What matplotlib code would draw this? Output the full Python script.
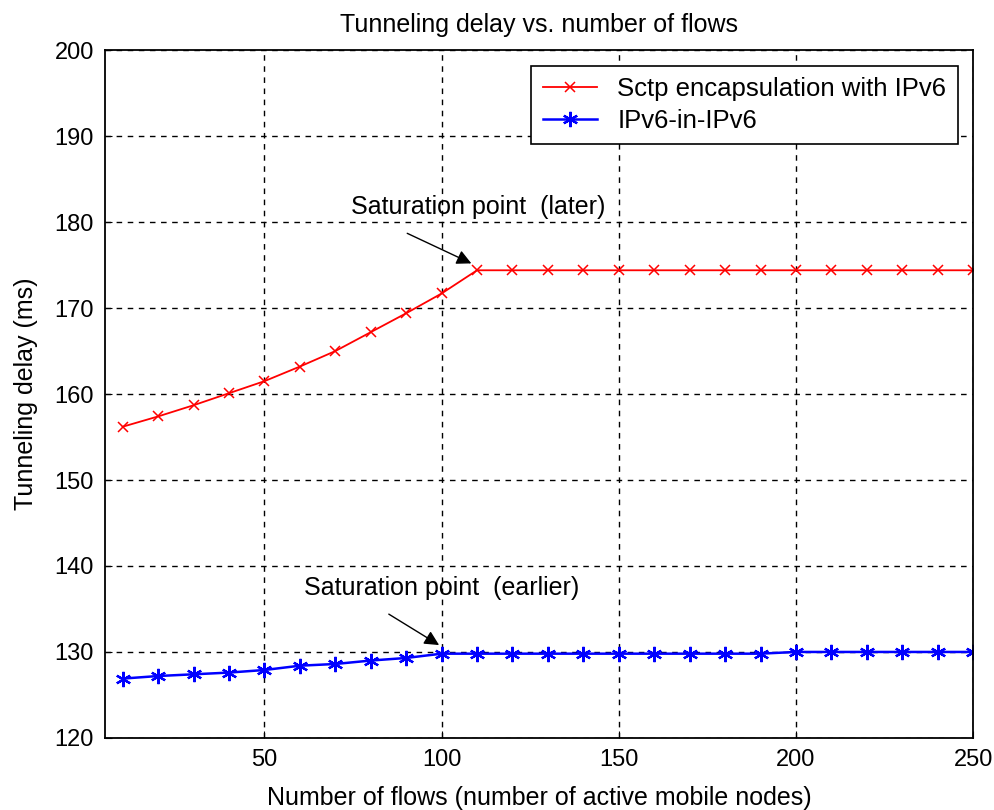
import matplotlib.pyplot as plt

# data
flows = [10, 20, 30, 40, 50, 60, 70, 80, 90, 100, 110, 120, 130, 140, 150,
         160, 170, 180, 190, 200, 210, 220, 230, 240, 250]
sctp_delay = [156.2, 157.4, 158.7, 160.1, 161.5, 163.2, 165.0, 167.2, 169.4, 171.7,
              174.4, 174.4, 174.4, 174.4, 174.4, 174.4, 174.4, 174.4, 174.4, 174.4,
              174.4, 174.4, 174.4, 174.4, 174.4]
ip6ip6_delay = [126.9, 127.2, 127.4, 127.6, 127.9, 128.4, 128.6, 129.0, 129.3, 129.8,
                129.8, 129.8, 129.8, 129.8, 129.8, 129.8, 129.8, 129.8, 129.8, 130.0,
                130.0, 130.0, 130.0, 130.0, 130.0]
x_ticks = [50, 100, 150, 200, 250]
y_ticks = [120, 130, 140, 150, 160, 170, 180, 190, 200]

plt.rcParams['font.family'] = ['Liberation Sans', 'DejaVu Sans']

fig = plt.figure(figsize=(9.95, 8.1), dpi=100)
ax = fig.add_axes([0.1055, 0.089, 0.8725, 0.849])

ax.plot(flows, sctp_delay, color='red', marker='x', markersize=7, linewidth=1.3,
        markeredgewidth=1.1, label='Sctp encapsulation with IPv6')
ax.plot(flows, ip6ip6_delay, color='blue', marker=(6, 2, 0), markersize=11,
        markeredgewidth=1.6, linewidth=1.8, label='IPv6-in-IPv6')

ax.set_xlim(5, 250)
ax.set_ylim(120, 200)
ax.set_xticks(x_ticks)
ax.set_yticks(y_ticks)
ax.tick_params(labelsize=17, direction='in', length=5, pad=8)
ax.grid(True, color='black', linestyle=(0, (4, 4)), linewidth=1)
for s in ax.spines.values():
    s.set_linewidth(1.3)

ax.set_title('Tunneling delay vs. number of flows', fontsize=18, pad=13)
ax.set_xlabel('Number of flows (number of active mobile nodes)', fontsize=18, labelpad=11)
ax.set_ylabel('Tunneling delay (ms)', fontsize=18, labelpad=12)

arrow = dict(arrowstyle='-|>', color='black', lw=1, mutation_scale=22,
             shrinkA=0, shrinkB=0)
ax.text(74.5, 181.8, 'Saturation point  (later)', fontsize=18, va='center', ha='left')
ax.annotate('', xy=(108.4, 175.2), xytext=(90.3, 178.7), arrowprops=arrow)
ax.text(61.3, 137.4, 'Saturation point  (earlier)', fontsize=18, va='center', ha='left')
ax.annotate('', xy=(99.3, 130.8), xytext=(85.1, 134.4), arrowprops=arrow)

leg = ax.legend(loc='upper right', fontsize=18.5, frameon=True, fancybox=False,
                edgecolor='black', framealpha=1, borderaxespad=0.6, borderpad=0.45,
                labelspacing=0.3, handlelength=2.1, handletextpad=0.8)
leg.get_frame().set_linewidth(1.2)

fig.savefig('out.png', dpi=100)
